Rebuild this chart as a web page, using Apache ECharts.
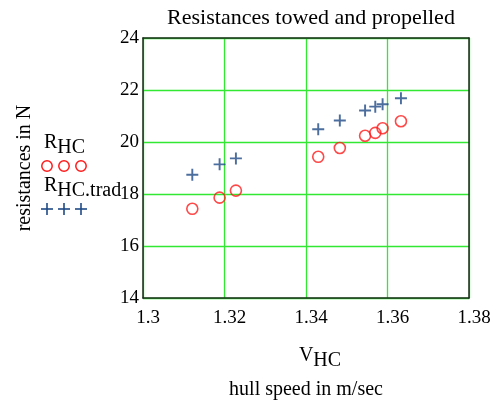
<!DOCTYPE html>
<html><head><meta charset="utf-8">
<script src="https://cdn.jsdelivr.net/npm/echarts@6/dist/echarts.min.js"></script>
<style>html,body{margin:0;padding:0;background:#fff}#c{width:491px;height:400px}</style>
</head><body><div id="c"></div>
<script>
const speeds = [1.3121, 1.3188, 1.3228, 1.3430, 1.3483, 1.3545, 1.3570, 1.3588, 1.3633];
const rHC = [17.43, 17.86, 18.13, 19.43, 19.77, 20.24, 20.35, 20.53, 20.80];
const rHCtrad = [18.74, 19.14, 19.37, 20.49, 20.83, 21.21, 21.36, 21.45, 21.68];
const xTicks = [1.3, 1.32, 1.34, 1.36, 1.38];
const yTicks = [14, 16, 18, 20, 22, 24];

const FONT = '"Liberation Serif", "Times New Roman", serif';
const plus = 'path://M4.2,0h1.6v4.2h4.2v1.6h-4.2v4.2h-1.6v-4.2h-4.2v-1.6h4.2z';
const legendX = [47, 64, 81];
const frameAxis = {show: true, lineStyle: {color: '#1b2b1b', width: 1.5}};
const chart = echarts.init(document.getElementById('c'));
chart.setOption({
  animation: false,
  title: {text: 'Resistances towed and propelled', left: 306, top: 2, textAlign: 'center',
    textStyle: {fontFamily: FONT, fontSize: 22, fontWeight: 'normal', color: '#000'}},
  grid: {left: 143, right: 22, top: 38, bottom: 102, containLabel: false, outerBoundsMode: 'none'},
  xAxis: [{type: 'value', min: xTicks[0], max: xTicks[xTicks.length-1], interval: 0.02,
    axisLine: frameAxis, axisTick: {show: false},
    axisLabel: {fontFamily: FONT, fontSize: 19, color: '#000', margin: 11, padding: [0,0,0,10],
      formatter: v => { const t = xTicks.find(x => Math.abs(x - v) < 1e-6); return t === undefined ? '' : String(t); }},
    splitLine: {show: true, lineStyle: {color: '#33e833', width: 1.3}},
    name: '{n|V}{s|HC}\n{t|hull speed in m/sec}', nameLocation: 'middle', nameGap: 42,
    nameTextStyle: {fontFamily: FONT, color: '#000', rich: {
      n: {fontFamily: FONT, fontSize: 20, color: '#000', verticalAlign: 'bottom', lineHeight: 26, padding: [0,0,0,28]},
      s: {fontFamily: FONT, fontSize: 20, color: '#000', verticalAlign: 'bottom', padding: [0,0,-5,0], lineHeight: 26},
      t: {fontFamily: FONT, fontSize: 20, color: '#000', lineHeight: 34, verticalAlign: 'bottom'}
    }}},
    {type: 'value', position: 'top', min: xTicks[0], max: xTicks[xTicks.length-1],
     axisLine: frameAxis, axisTick: {show: false}, axisLabel: {show: false}, splitLine: {show: false}}],
  yAxis: [{type: 'value', min: yTicks[0], max: yTicks[yTicks.length-1], interval: 2,
    axisLine: frameAxis, axisTick: {show: false},
    axisLabel: {fontFamily: FONT, fontSize: 19, color: '#000', margin: 4, verticalAlign: 'middle', padding: [4,0,0,0]},
    splitLine: {show: true, lineStyle: {color: '#33e833', width: 1.3}},
    name: 'resistances in N', nameLocation: 'middle', nameGap: 108,
    nameTextStyle: {fontFamily: FONT, fontSize: 20, color: '#000'}},
    {type: 'value', position: 'right', min: yTicks[0], max: yTicks[yTicks.length-1],
     axisLine: frameAxis, axisTick: {show: false}, axisLabel: {show: false}, splitLine: {show: false}}],
  graphic: [
    {type: 'text', x: 44, y: 133, style: {text: '{n|R}{s|HC}', rich: {
      n: {fontFamily: FONT, fontSize: 20, fill: '#000', verticalAlign: 'bottom'},
      s: {fontFamily: FONT, fontSize: 20, fill: '#000', verticalAlign: 'bottom', padding: [0,0,-5,0]}}}},
    {type: 'text', x: 44, y: 176, style: {text: '{n|R}{s|HC.trad}', rich: {
      n: {fontFamily: FONT, fontSize: 20, fill: '#000', verticalAlign: 'bottom'},
      s: {fontFamily: FONT, fontSize: 20, fill: '#000', verticalAlign: 'bottom', padding: [0,0,-5,0]}}}},
    ...legendX.map(x => ({type: 'circle', shape: {cx: x, cy: 166, r: 5.2}, style: {fill: 'none', stroke: '#ff1a1a', lineWidth: 1.5}})),
    ...legendX.map(x => ({type: 'line', shape: {x1: x-6, y1: 209, x2: x+6, y2: 209}, style: {stroke: '#1f4a86', lineWidth: 1.6}})),
    ...legendX.map(x => ({type: 'line', shape: {x1: x, y1: 203, x2: x, y2: 215}, style: {stroke: '#1f4a86', lineWidth: 1.6}}))
  ],
  series: [
    {type: 'scatter', data: speeds.map((v, i) => [v, rHC[i]]), symbol: 'circle', symbolSize: 11, z: 5,
      itemStyle: {color: 'rgba(0,0,0,0)', borderColor: '#ff1a1a', borderWidth: 1.6}},
    {type: 'scatter', data: speeds.map((v, i) => [v, rHCtrad[i]]), symbol: plus, symbolSize: 12, z: 5,
      itemStyle: {color: '#1f4a86'}}
  ]
});
</script></body></html>
